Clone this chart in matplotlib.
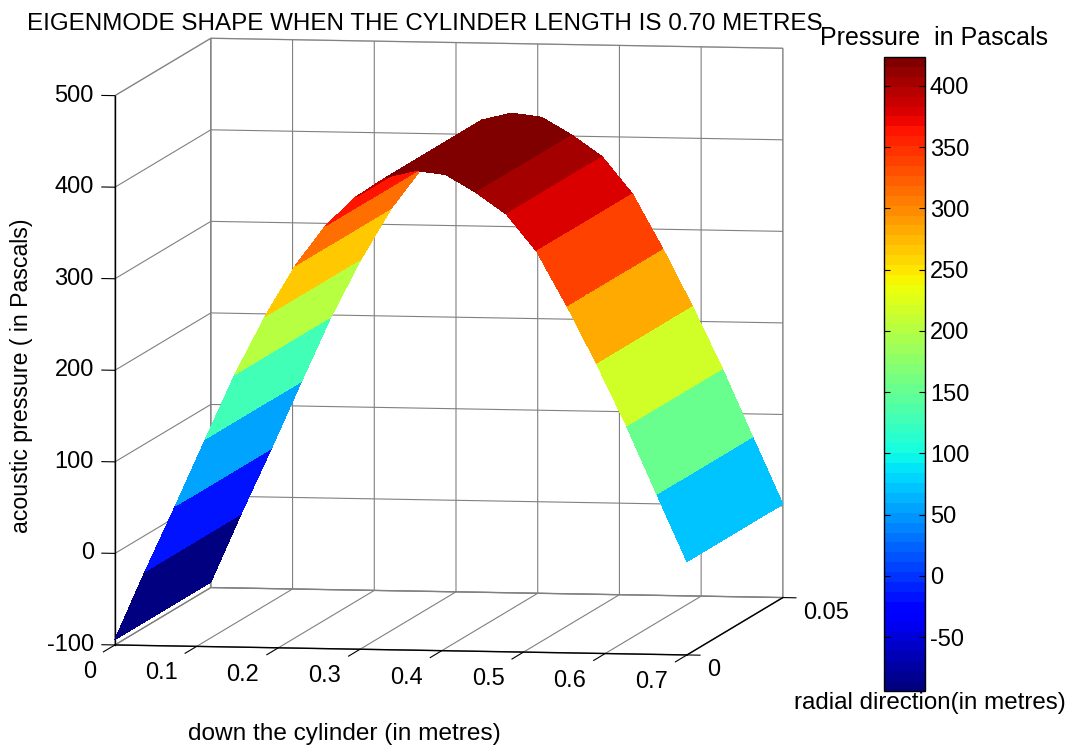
import numpy as np
import matplotlib
matplotlib.use('Agg')
import matplotlib.pyplot as plt
from matplotlib.cm import ScalarMappable
from matplotlib.colors import Normalize
from mpl_toolkits.mplot3d import proj3d

plt.rcParams['font.family'] = ['Liberation Sans', 'DejaVu Sans']
plt.rcParams['axes.unicode_minus'] = False
plt.rcParams['grid.color'] = '#808080'
plt.rcParams['grid.linewidth'] = 0.8

# values
x_vals = [0.0, 0.037, 0.074, 0.111, 0.147, 0.184, 0.221, 0.258, 0.295, 0.332,
          0.368, 0.405, 0.442, 0.479, 0.516, 0.553, 0.589, 0.626, 0.663, 0.7]
y_vals = [0.0, 0.01, 0.02, 0.03, 0.04, 0.05]
pressure = [-94, -19, 53, 127, 198, 262, 318, 362, 394, 416,
            424, 420, 401, 378, 338, 279, 217, 149, 75, 2]
x_ticks = [0, 0.1, 0.2, 0.3, 0.4, 0.5, 0.6, 0.7]
x_labels = ['0', '0.1', '0.2', '0.3', '0.4', '0.5', '0.6', '0.7']
y_ticks = [0, 0.05]
y_labels = ['0', '0.05']
z_ticks = [-100, 0, 100, 200, 300, 400, 500]
z_labels = ['-100', '0', '100', '200', '300', '400', '500']
cbar_ticks = [-50, 0, 50, 100, 150, 200, 250, 300, 350, 400]
cbar_min = -94
cbar_max = 423.5

W, H = 1079, 747
fig = plt.figure(figsize=(W / 100, H / 100), dpi=100)
ax = fig.add_axes([-41 / W, -89.5 / H, 954 / W, 954 / H], projection='3d', proj_type='ortho')
ax.view_init(elev=5.87, azim=-80.3)
ax.set_box_aspect((578, 567, 550))
ax.patch.set_alpha(0)

cmap = plt.get_cmap('jet', 64)
norm = Normalize(cbar_min, cbar_max)

X, Y = np.meshgrid(x_vals, y_vals)
Z = np.tile(pressure, (len(y_vals), 1)).astype(float)
ax.plot_surface(X, Y, Z, facecolors=cmap(norm(Z)), rstride=1, cstride=1,
                shade=False, linewidth=0, antialiased=False)

ax.set_xlim(0, 0.7)
ax.set_ylim(0, 0.05)
ax.set_zlim(-100, 500)
ax.set_xticks(x_ticks)
ax.set_yticks(y_ticks)
ax.set_zticks(z_ticks)
ax.set_xticklabels([])
ax.set_yticklabels([])
ax.set_zticklabels([])
ax.zaxis.set_ticks_position('lower')

for axis in [ax.xaxis, ax.yaxis, ax.zaxis]:
    axis.pane.set_facecolor((1, 1, 1, 0))
    axis.pane.set_edgecolor('#808080')
    axis.line.set_color('black')
    axis.line.set_linewidth(1.0)
    axis._axinfo['tick']['inward_factor'] = 0
    axis._axinfo['tick']['outward_factor'] = 0

# tick marks stick out along the floor, like matlab draws them
for t in x_ticks:
    ax.plot([t, t], [0, -0.006], [-100, -100], color='black', lw=0.8)
for t in y_ticks:
    ax.plot([0.7, 0.716], [t, t], [-100, -100], color='black', lw=0.8)
for t in z_ticks:
    ax.plot([0, -0.016], [0, 0], [t, t], color='black', lw=0.8)

# tick labels are placed by hand from the projected tick position
M = ax.get_proj()


def tick_label(x, y, z, s, dx, dy, ha):
    px, py, _ = proj3d.proj_transform(x, y, z, M)
    ax.annotate(s, xy=(px, py), xytext=(dx, dy), textcoords='offset pixels',
                ha=ha, va='center', fontsize=17, annotation_clip=False)


for t, s in zip(x_ticks, x_labels):
    tick_label(t, 0, -100, s, -19, -27, 'right')
for t, s in zip(y_ticks, y_labels):
    tick_label(0.7, t, -100, s, 20, -15, 'left')
for t, s in zip(z_ticks, z_labels):
    tick_label(0, 0, t, s, -21, 0, 'right')

# colorbar
cax = fig.add_axes([884 / W, 1 - 691 / H, 41 / W, 634 / H])
sm = ScalarMappable(norm=norm, cmap=cmap)
cb = fig.colorbar(sm, cax=cax, ticks=cbar_ticks)
cax.tick_params(direction='in', length=4, left=True, right=True, labelsize=17, width=0.8)
cb.outline.set_linewidth(1.0)

fig.text(425 / W, 1 - 24 / H, 'EIGENMODE SHAPE WHEN THE CYLINDER LENGTH IS 0.70 METRES',
         ha='center', va='center', fontsize=17.4)
fig.text(934 / W, 1 - 38 / H, 'Pressure  in Pascals', ha='center', va='center', fontsize=18)
fig.text(930 / W, 1 - 703 / H, 'radial direction(in metres)', ha='center', va='center', fontsize=17.4)
fig.text(344 / W, 1 - 734 / H, 'down the cylinder (in metres)', ha='center', va='center', fontsize=17.6)
fig.text(22 / W, 1 - 376 / H, 'acoustic pressure ( in Pascals)', ha='center', va='center',
         rotation=90, fontsize=16.7)

fig.savefig('out.png', dpi=100)
